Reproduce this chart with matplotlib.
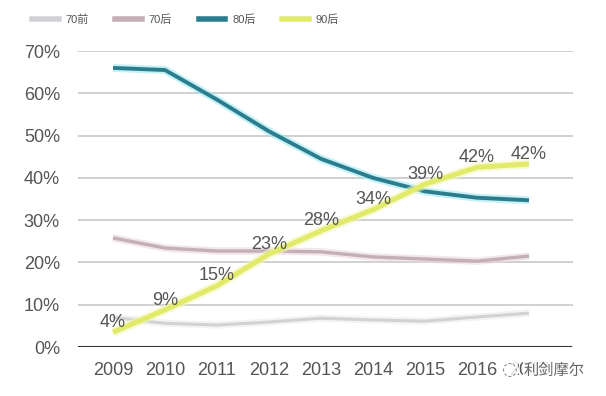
import matplotlib
matplotlib.use("Agg")
import matplotlib.pyplot as plt
import matplotlib.patheffects as pe
from matplotlib.lines import Line2D
import numpy as np

plt.rcParams['font.family'] = ['Liberation Sans', 'Noto Sans CJK SC', 'DejaVu Sans']

years = ["2009", "2010", "2011", "2012", "2013", "2014", "2015", "2016", "2017"]
series_names = ["70前", "70后", "80后", "90后"]
v70q = [7.0, 5.6, 5.2, 5.9, 6.8, 6.4, 6.1, 7.1, 8.0]
v70h = [25.8, 23.4, 22.7, 22.7, 22.5, 21.3, 20.8, 20.3, 21.5]
v80h = [66.0, 65.5, 58.5, 51.0, 44.5, 40.0, 36.8, 35.3, 34.7]
v90h = [3.5, 8.8, 14.5, 22.0, 27.5, 32.5, 38.5, 42.5, 43.3]
labels90 = ["4%", "9%", "15%", "23%", "28%", "34%", "39%", "42%", "42%"]
yticks = [0, 10, 20, 30, 40, 50, 60, 70]

colors = ["#d2d2d6", "#c4aeb8", "#2b7d8e", "#e2ea6a"]
glows = ["#ececec", "#ead8e0", "#9fe8f2", "#f4f8b8"]
widths = [2.2, 2.4, 2.8, 3.6]

fig = plt.figure(figsize=(6.06, 3.96), dpi=100)
fig.patch.set_facecolor("white")
ax = fig.add_axes([78/606, 49/396, (573-78)/606, (347-51)/396])

x = np.arange(len(years))
for vals, c, g, w in zip([v70q, v70h, v80h, v90h], colors, glows, widths):
    ax.plot(x, vals, color=c, lw=w, solid_capstyle='butt', zorder=3,
            path_effects=[pe.Stroke(linewidth=w + 3, foreground=g, alpha=0.6), pe.Normal()])

for xi, v, lab in zip(x, v90h, labels90):
    ax.text(xi, v + 2.3, lab, ha='center', va='center', fontsize=13, color='#555555', zorder=5)

ax.set_xlim(-0.673, 8.846)
ax.set_ylim(0, 70)
ax.set_yticks(yticks)
ax.set_yticklabels([f"{t}%" for t in yticks])
ax.set_xticks(x)
ax.set_xticklabels(years)
ax.grid(axis='y', color='#c8c8c8', lw=1.2, zorder=0)
ax.axhline(0, color='#333333', lw=2.2, zorder=4, xmax=0.994)
for s in ax.spines.values():
    s.set_visible(False)
ax.tick_params(axis='y', length=0, pad=13, labelsize=13, labelcolor='#555555')
ax.tick_params(axis='x', length=0, pad=11, labelsize=13, labelcolor='#555555')

handles = [Line2D([], [], color=c, lw=4) for c in colors]
fig.legend(handles, series_names, loc='center left', bbox_to_anchor=(22/606, 1 - 20/396),
           ncol=4, frameon=False, fontsize=8, labelcolor='#555555',
           handlelength=2.4, handletextpad=0.6, columnspacing=2.4)

fig.text(502/606, 1 - 370/396, "◌", fontsize=13, color='#888888', va='center', ha='left',
         family=['DejaVu Sans'],
         bbox=dict(facecolor='white', edgecolor='none', pad=0.5, alpha=0.85))
fig.text(524/606, 1 - 370/396, "利剑摩尔", fontsize=11, color='#666666', va='center', ha='left',
         family=['Noto Sans CJK SC'],
         bbox=dict(facecolor='white', edgecolor='none', pad=0.5, alpha=0.85))

fig.savefig("out.png", dpi=100)
